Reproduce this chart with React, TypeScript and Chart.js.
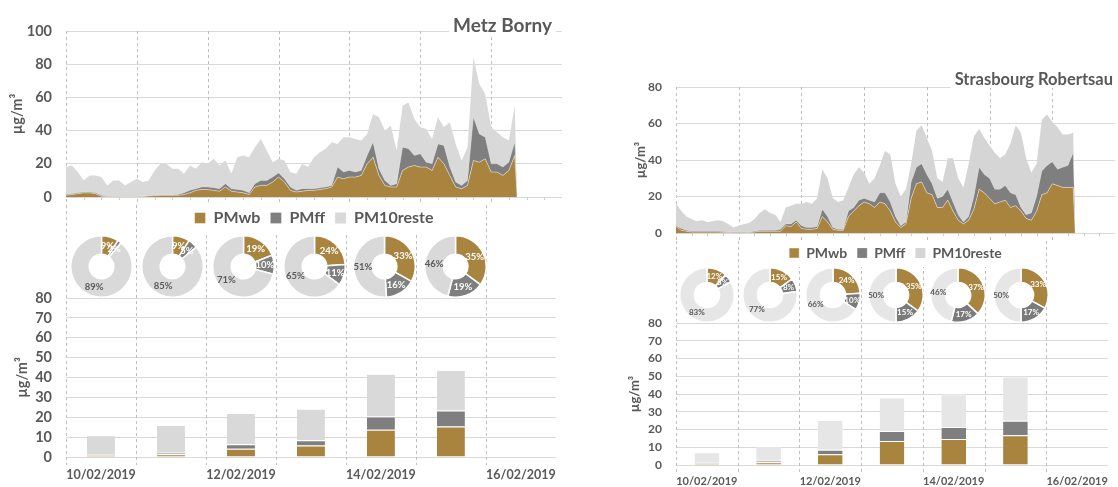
import React, { useEffect, useRef } from "react";
import { Chart, registerables } from "chart.js";

Chart.register(...registerables);

const FONT = "Lato, 'Open Sans', 'DejaVu Sans', sans-serif";
const TEXT = "#595959";
const GRID = "#D9D9D9";
const DASH = "#BFBFBF";
const BROWN = "#A9843F";

Chart.defaults.font.family = FONT;

// ---------- data ----------
const seriesNames = ["PMwb", "PMff", "PM10reste"];
const dayLabels = ["10/02/2019", "11/02/2019", "12/02/2019", "13/02/2019", "14/02/2019", "15/02/2019", "16/02/2019"];

// hours since 10/02/2019 00:00 (2-hour readings)
const hours: number[] = [];
for (let h = 0; h <= 152; h += 2) hours.push(h);
hours.push(152.8);

// Metz Borny, hourly concentrations (µg/m³)
const metzWb = [
  1, 1.5, 2, 2.5, 2.5, 2, 0.5, 0.2, 0.1, 0.1,
  0.1, 0.1, 0.1, 0.3, 0.6, 0.8, 1, 1, 1, 1,
  1.5, 2.5, 4, 4.5, 4.5, 4, 3.5, 6, 3.5, 3,
  2.5, 1.5, 6, 7, 7, 9, 12, 9, 4, 3,
  3.5, 4, 4, 4.5, 5, 6, 12, 11, 12, 12,
  13, 20, 24, 13, 7, 6, 6, 16, 18, 19,
  18, 18, 16, 24, 20, 13, 6, 5, 7, 22,
  21, 23, 15, 15, 13, 16, 25, 0,
];
const metzFf = [
  0.5, 0.5, 0.5, 0.5, 0.5, 0.5, 0.5, 0.3, 0.2, 0.2,
  0.2, 0.2, 0.2, 0.2, 0.2, 0.2, 0.2, 0.2, 0.2, 0.5,
  1, 1.5, 1, 1.5, 1.5, 1.5, 1.5, 2, 1.5, 1.5,
  1.5, 1, 2, 3, 3, 3, 2.5, 2, 2, 1,
  1.5, 1, 1, 1, 1, 1, 6, 4, 4, 3,
  3, 5, 9, 4, 3, 1, 2, 14, 11, 6,
  8, 3, 4, 8, 11, 5, 3, 2, 3, 26,
  17, 13, 5, 5, 5, 5, 8, 0,
];
const metzReste = [
  16.5, 17, 12.5, 7, 10, 10.5, 11, 6.5, 9.7, 9.7,
  6.7, 8.7, 10.7, 8.5, 9.2, 15, 18.8, 18.8, 15.8, 15.5,
  11.5, 15, 12, 15, 14, 17.5, 14, 14, 9, 19.5,
  21, 21.5, 22, 25, 18, 9, 8.5, 11, 9, 10,
  15, 13, 19, 21.5, 23, 26, 14, 21, 20, 20,
  18, 13, 17, 31, 30, 36, 20, 25, 28, 22,
  16, 20, 15, 16, 11, 27, 23, 15, 20, 36,
  30, 26, 22, 19, 18, 13, 22, 0,
];

// Strasbourg Robertsau, hourly concentrations (µg/m³)
const strasWb = [
  3.5, 1.5, 1, 0.5, 0.5, 0.5, 0.5, 0.5, 0.5, 0.4,
  0.3, 0.2, 0.2, 0.2, 0.3, 0.5, 1, 1, 1, 1,
  1, 4, 3.5, 6, 2.5, 2, 2, 2.5, 9, 6,
  2, 1.5, 1.5, 9, 12, 15, 17, 16, 14, 17,
  16, 12, 6, 3, 5, 19, 27, 28, 22, 21,
  14, 14, 18, 12, 7, 5, 7, 13, 24, 22,
  19, 16, 17, 18, 14, 15, 12, 8, 7, 12,
  21, 22, 27, 26, 25, 25, 25, 0,
];
const strasFf = [
  0.5, 1, 0.5, 0.5, 0.5, 0.5, 0.5, 0.5, 0.5, 0.4,
  0.3, 0.3, 0.3, 0.3, 0.3, 0.5, 0.5, 0.5, 0.5, 0.5,
  1, 1, 1.5, 1, 1.5, 1, 1, 1, 4, 3,
  1, 0.5, 0.5, 3, 2, 3, 2, 2, 3, 5,
  6, 5, 3, 1, 1, 9, 9, 10, 10, 6,
  5, 6, 6, 5, 3, 1, 2, 7, 12, 10,
  11, 8, 7, 8, 8, 6, 2, 2, 4, 8,
  13, 15, 12, 9, 11, 12, 19, 0,
];
const strasReste = [
  12, 9.5, 7.5, 6.5, 5.5, 6, 5, 5.5, 6, 5.7,
  4.4, 2.5, 3.5, 4.5, 4.9, 6.5, 9.5, 11.5, 9.5, 8.5,
  4, 9, 10, 9, 12, 14, 13, 15.5, 22, 21,
  16, 15, 16, 13, 18, 18, 14, 9, 13, 15,
  23, 26, 18, 16, 18, 10, 20, 21, 20, 18,
  11, 8, 17, 24, 20, 19, 29, 33, 21, 20,
  18, 20, 17, 17, 27, 38, 41, 31, 22, 18,
  28, 28, 22, 23, 18, 17, 11, 0,
];

// daily means (µg/m³)
const metzBarWb = [1.0, 1.4, 4.2, 5.8, 13.7, 15.3];
const metzBarFf = [0.2, 0.8, 2.2, 2.6, 6.7, 8.1];
const metzBarReste = [9.8, 13.9, 15.7, 15.9, 21.5, 20.4];
const strasBarWb = [0.9, 1.6, 6.1, 13.5, 14.7, 16.7];
const strasBarFf = [0.4, 0.8, 2.5, 5.7, 6.7, 8.2];
const strasBarReste = [5.9, 8.3, 16.8, 18.8, 18.5, 25.0];

// daily shares (%)
const metzPieWb = [9, 9, 19, 24, 33, 35];
const metzPieFf = [2, 5, 10, 11, 16, 19];
const metzPieReste = [89, 85, 71, 65, 51, 46];
const strasPieWb = [12, 15, 24, 35, 37, 33];
const strasPieFf = [5, 8, 10, 15, 17, 17];
const strasPieReste = [83, 77, 66, 50, 46, 50];

// ---------- layout ----------
const LEFT = {
  title: "Metz Borny", titleSize: 19, titleDx: 10, titleDy: 1,
  x0: 0, width: 566, padRight: 4, axisWidth: 66,
  topH: 236, topPad: 31, yMax: 100, yStep: 20,
  tickSize: 14.5, tickPad: 14, yTitleSize: 14.5, yTitlePad: 9,
  legendSize: 16, legendBox: 11,
  barTop: 205, barH: 282, barPad: 93, barAxisH: 30, xTickSize: 12.5, xTickPad: 10, barYTitlePad: 14,
  donutSize: 63, donutCy: 266, cutout: "40%", donutFont: 9.5,
  dark: "#7F7F7F", areaLight: "#D9D9D9", light: "#D9D9D9", donutDark: "#7F7F7F",
};
const RIGHT = {
  title: "Strasbourg Robertsau", titleSize: 16.5, titleDx: 2, titleDy: -2,
  x0: 610, width: 508, padRight: 3, axisWidth: 66,
  topH: 270, topPad: 87, yMax: 80, yStep: 20,
  tickSize: 12, tickPad: 14, yTitleSize: 13, yTitlePad: 23,
  legendSize: 14, legendBox: 10,
  barTop: 241, barH: 246, barPad: 82, barAxisH: 22, xTickSize: 11, xTickPad: 10, barYTitlePad: 17,
  donutSize: 56, donutCy: 295, cutout: "46%", donutFont: 8,
  dark: "#7F7F7F", areaLight: "#D5D5D5", light: "#E6E6E6", donutDark: "#7A7A7A",
};

// ---------- plugins ----------
const cornerTitle = {
  id: "cornerTitle",
  afterDraw(chart: any, _a: any, opts: any) {
    if (!opts || !opts.text) return;
    const { ctx, chartArea } = chart;
    ctx.save();
    ctx.font = `bold ${opts.size}px ${FONT}`;
    const w = ctx.measureText(opts.text).width;
    const xr = chartArea.right - opts.dx;
    const yb = chartArea.top + opts.dy;
    ctx.fillStyle = "#FFFFFF";
    ctx.fillRect(xr - w - 4, yb - opts.size, w + 8, opts.size + 3);
    ctx.fillStyle = TEXT;
    ctx.textAlign = "right";
    ctx.textBaseline = "alphabetic";
    ctx.fillText(opts.text, xr, yb);
    ctx.restore();
  },
};

const areaDecor = {
  id: "areaDecor",
  beforeDraw(chart: any) {
    const boxes = chart.legend && chart.legend.legendHitBoxes;
    if (!boxes || !boxes.length) return;
    const ctx = chart.ctx;
    const l = Math.min(...boxes.map((b: any) => b.left)) - 8;
    const r = Math.max(...boxes.map((b: any) => b.left + b.width)) + 8;
    const t = Math.min(...boxes.map((b: any) => b.top)) - 7;
    const bt = Math.max(...boxes.map((b: any) => b.top + b.height)) + 7;
    ctx.save();
    ctx.fillStyle = "#FFFFFF";
    ctx.fillRect(l, t, r - l, bt - t);
    ctx.restore();
  },
  beforeDatasetsDraw(chart: any) {
    const { ctx, chartArea, scales } = chart;
    const x = scales.x;
    const y0 = scales.y.getPixelForValue(0);
    ctx.save();
    ctx.strokeStyle = DASH;
    ctx.lineWidth = 1;
    ctx.setLineDash([3, 3]);
    for (let d = 0; d < dayLabels.length; d++) {
      const px = Math.round(x.getPixelForValue(d * 24)) + 0.5;
      ctx.beginPath();
      ctx.moveTo(px, chartArea.top);
      ctx.lineTo(px, y0 + 8);
      ctx.stroke();
    }
    ctx.setLineDash([]);
    ctx.strokeStyle = "#CFCFCF";
    for (let h = 6; h < 24 * dayLabels.length; h += 6) {
      if (h % 24 === 0) continue;
      const px = Math.round(x.getPixelForValue(h)) + 0.5;
      ctx.beginPath();
      ctx.moveTo(px, y0);
      ctx.lineTo(px, y0 + 3);
      ctx.stroke();
    }
    ctx.restore();
  },
};

const barDecor = {
  id: "barDecor",
  beforeDatasetsDraw(chart: any) {
    const { ctx, chartArea, scales } = chart;
    const x = scales.x;
    ctx.save();
    ctx.strokeStyle = DASH;
    ctx.lineWidth = 1;
    ctx.setLineDash([3, 3]);
    for (let i = 0; i < dayLabels.length; i++) {
      const px = Math.round(x.getPixelForDecimal(i / dayLabels.length)) + 0.5;
      ctx.beginPath();
      ctx.moveTo(px, 0);
      ctx.lineTo(px, chartArea.bottom + 8);
      ctx.stroke();
    }
    ctx.restore();
  },
};

const donutLabels = {
  id: "donutLabels",
  afterDatasetsDraw(chart: any, _a: any, opts: any) {
    const ctx = chart.ctx;
    const meta = chart.getDatasetMeta(0);
    const values = chart.data.datasets[0].data;
    ctx.save();
    ctx.font = `bold ${opts.size}px ${FONT}`;
    ctx.textAlign = "center";
    ctx.textBaseline = "middle";
    meta.data.forEach((arc: any, i: number) => {
      const p = arc.tooltipPosition();
      ctx.fillStyle = i < 2 ? "#FFFFFF" : TEXT;
      ctx.fillText(values[i] + "%", p.x, p.y);
    });
    ctx.restore();
  },
};

const bold = (size: number) => ({ family: FONT, size, weight: "bold" as const });

// ---------- configs ----------
function areaConfig(p: any, wb: number[], ff: number[], reste: number[]): any {
  const pts = (arr: number[]) => arr.map((v, i) => ({ x: hours[i], y: v }));
  const common = { pointRadius: 0, tension: 0 };
  return {
    type: "line",
    data: {
      datasets: [
        { ...common, label: seriesNames[0], data: pts(wb), backgroundColor: BROWN, borderColor: "rgba(255,255,255,0.55)", borderWidth: 0.8, fill: "origin" },
        { ...common, label: seriesNames[1], data: pts(ff), backgroundColor: p.dark, borderColor: "rgba(255,255,255,0.35)", borderWidth: 0.6, fill: "-1" },
        { ...common, label: seriesNames[2], data: pts(reste), backgroundColor: p.areaLight, borderColor: p.areaLight, borderWidth: 0, fill: "-1" },
      ],
    },
    options: {
      animation: false,
      responsive: false,
      devicePixelRatio: 1,
      layout: { padding: { top: p.topPad, right: p.padRight, left: 0, bottom: 0 } },
      scales: {
        x: {
          type: "linear", min: 0, max: 24 * dayLabels.length,
          grid: { display: false, drawTicks: false }, border: { display: false },
          ticks: { display: false },
          afterFit: (s: any) => { s.height = 3; },
        },
        y: {
          stacked: true, min: 0, max: p.yMax,
          ticks: { stepSize: p.yStep, autoSkip: false, padding: p.tickPad, color: TEXT, font: bold(p.tickSize) },
          grid: { color: GRID, drawTicks: false }, border: { display: false },
          title: { display: true, text: "µg/m³", color: TEXT, font: bold(p.yTitleSize), padding: { top: p.yTitlePad, bottom: 0 } },
          afterFit: (s: any) => { s.width = p.axisWidth; },
        },
      },
      plugins: {
        legend: {
          position: "bottom", fullSize: false,
          labels: { boxWidth: p.legendBox, boxHeight: p.legendBox, color: TEXT, font: bold(p.legendSize), padding: 10 },
        },
        tooltip: { enabled: false },
        cornerTitle: { text: p.title, size: p.titleSize, dx: p.titleDx, dy: p.titleDy },
      },
    },
    plugins: [areaDecor, cornerTitle],
  };
}

function barConfig(p: any, wb: number[], ff: number[], reste: number[]): any {
  const border = { top: 1, left: 0, right: 0, bottom: 0 };
  return {
    type: "bar",
    data: {
      labels: dayLabels,
      datasets: [
        { label: seriesNames[0], data: wb, backgroundColor: BROWN, borderColor: "rgba(255,255,255,0.6)", borderWidth: border, borderSkipped: false },
        { label: seriesNames[1], data: ff, backgroundColor: p.dark, borderColor: "rgba(255,255,255,0.6)", borderWidth: border, borderSkipped: false },
        { label: seriesNames[2], data: reste, backgroundColor: p.light, borderColor: "rgba(255,255,255,0.6)", borderWidth: border, borderSkipped: false },
      ],
    },
    options: {
      animation: false,
      responsive: false,
      devicePixelRatio: 1,
      layout: { padding: { top: p.barPad, right: p.padRight, left: 0, bottom: 0 } },
      datasets: { bar: { categoryPercentage: 1, barPercentage: 0.4 } },
      scales: {
        x: {
          stacked: true,
          grid: { display: false, drawTicks: false }, border: { display: false },
          ticks: {
            autoSkip: false, maxRotation: 0, minRotation: 0, padding: p.xTickPad,
            color: TEXT, font: bold(p.xTickSize),
            callback: (_v: any, i: number) => (i % 2 === 0 ? dayLabels[i] : ""),
          },
          afterFit: (s: any) => { s.height = p.barAxisH; },
        },
        y: {
          stacked: true, min: 0, max: 80,
          ticks: { stepSize: 10, autoSkip: false, padding: p.tickPad, color: TEXT, font: bold(p.tickSize) },
          grid: { color: GRID, drawTicks: false }, border: { display: false },
          title: { display: true, text: "µg/m³", color: TEXT, font: bold(p.yTitleSize), padding: { top: p.barYTitlePad, bottom: 0 } },
          afterFit: (s: any) => { s.width = p.axisWidth; },
        },
      },
      plugins: { legend: { display: false }, tooltip: { enabled: false } },
    },
    plugins: [barDecor],
  };
}

function donutConfig(p: any, values: number[]): any {
  return {
    type: "doughnut",
    data: {
      labels: seriesNames,
      datasets: [{ data: values, backgroundColor: [BROWN, p.donutDark, p.light], borderColor: "#FFFFFF", borderWidth: 1.5 }],
    },
    options: {
      animation: false,
      responsive: false,
      devicePixelRatio: 1,
      cutout: p.cutout,
      layout: { padding: 0 },
      plugins: { legend: { display: false }, tooltip: { enabled: false }, donutLabels: { size: p.donutFont } },
    },
    plugins: [donutLabels],
  };
}

// ---------- components ----------
function ChartBox({ left, top, width, height, make }: any) {
  const ref = useRef<HTMLCanvasElement>(null);
  useEffect(() => {
    const chart = new Chart(ref.current as HTMLCanvasElement, make());
    return () => chart.destroy();
  }, []);
  return (
    <canvas
      ref={ref}
      width={width}
      height={height}
      style={{ position: "absolute", left, top, width, height }}
    />
  );
}

function Panel({ p, area, bars, pies }: any) {
  const plotLeft = p.x0 + p.axisWidth;
  const plotRight = p.x0 + p.width - p.padRight;
  const dayW = (plotRight - plotLeft) / dayLabels.length;
  return (
    <>
      <ChartBox left={p.x0} top={p.barTop} width={p.width} height={p.barH} make={() => barConfig(p, bars[0], bars[1], bars[2])} />
      <ChartBox left={p.x0} top={0} width={p.width} height={p.topH} make={() => areaConfig(p, area[0], area[1], area[2])} />
      {pies[0].map((_: number, k: number) => {
        const cx = plotLeft + dayW * (k + 0.5);
        return (
          <ChartBox
            key={k}
            left={Math.round(cx - p.donutSize / 2)}
            top={Math.round(p.donutCy - p.donutSize / 2)}
            width={p.donutSize}
            height={p.donutSize}
            make={() => donutConfig(p, [pies[0][k], pies[1][k], pies[2][k]])}
          />
        );
      })}
    </>
  );
}

export default function App() {
  return (
    <div style={{ position: "absolute", left: 0, top: 0, width: 1118, height: 487, background: "#FFFFFF", overflow: "hidden" }}>
      <Panel
        p={LEFT}
        area={[metzWb, metzFf, metzReste]}
        bars={[metzBarWb, metzBarFf, metzBarReste]}
        pies={[metzPieWb, metzPieFf, metzPieReste]}
      />
      <Panel
        p={RIGHT}
        area={[strasWb, strasFf, strasReste]}
        bars={[strasBarWb, strasBarFf, strasBarReste]}
        pies={[strasPieWb, strasPieFf, strasPieReste]}
      />
    </div>
  );
}
